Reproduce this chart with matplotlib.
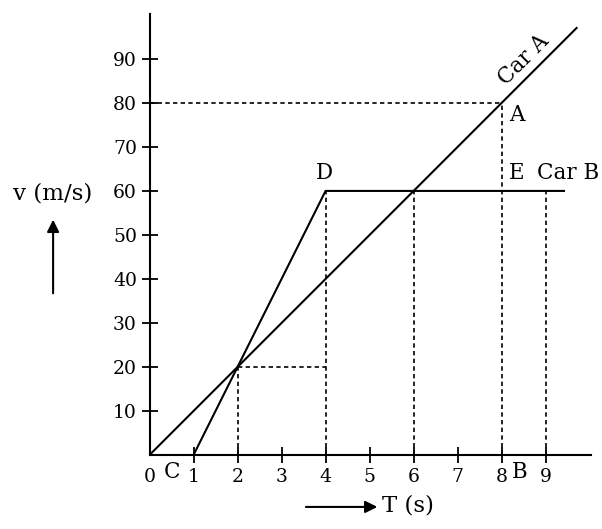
import matplotlib.pyplot as plt

# velocity-time data
time_a = [0, 9.72]
vel_a = [0, 97.2]
time_b = [1, 4, 9.44]
vel_b = [0, 60, 60]

# dotted guide segments: (x0, x1, y0, y1)
guides = [
    (0, 8, 80, 80),
    (8, 8, 0, 80),
    (2, 4, 20, 20),
    (2, 2, 0, 20),
    (4, 4, 0, 60),
    (6, 6, 0, 60),
    (9, 9, 0, 60),
]

xticks = list(range(0, 10))
yticks = list(range(10, 100, 10))

plt.rcParams['font.family'] = ['DejaVu Serif']

fig = plt.figure(figsize=(6.02, 5.29), dpi=100)
ax = fig.add_axes([149.5 / 602, 74 / 529, 441.5 / 602, 441 / 529])

ax.plot(time_a, vel_a, color='black', lw=1.5, solid_capstyle='butt')
ax.plot(time_b, vel_b, color='black', lw=1.5, solid_capstyle='butt')
for x0, x1, y0, y1 in guides:
    ax.plot([x0, x1], [y0, y1], color='black', lw=1.2, linestyle=(0, (2.6, 2.0)))

ax.set_xlim(0, 10.03)
ax.set_ylim(0, 100.2)
ax.spines['top'].set_visible(False)
ax.spines['right'].set_visible(False)
for s in ('left', 'bottom'):
    ax.spines[s].set_linewidth(1.5)

ax.set_xticks(xticks)
ax.set_yticks(yticks)
ax.tick_params(direction='inout', length=12, width=1.3, labelsize=13.5, pad=3)
ax.xaxis.get_major_ticks()[0].tick1line.set_visible(False)

ts = 15.5
ax.text(3.97, 61.5, 'D', fontsize=ts, ha='center', va='bottom')
ax.text(8.35, 77.3, 'A', fontsize=ts, ha='center', va='center')
ax.text(8.35, 64, 'E', fontsize=ts, ha='center', va='center')
ax.text(9.5, 64, 'Car B', fontsize=ts, ha='center', va='center')
ax.text(8.49, 89.8, 'Car A', fontsize=ts, ha='center', va='center', rotation=45)
ax.text(0.51, -3.9, 'C', fontsize=ts, ha='center', va='center', clip_on=False)
ax.text(8.42, -3.9, 'B', fontsize=ts, ha='center', va='center', clip_on=False)

# axis captions with arrows
ax.text(-2.19, 59.5, 'v (m/s)', fontsize=16.5, ha='center', va='center')
ax.annotate('', xy=(-2.19, 54.1), xytext=(-2.19, 36.1), annotation_clip=False,
            arrowprops=dict(arrowstyle='-|>', color='black', lw=1.5, mutation_scale=18))
ax.annotate('', xy=(5.24, -11.8), xytext=(3.49, -11.8), annotation_clip=False,
            arrowprops=dict(arrowstyle='-|>', color='black', lw=1.5, mutation_scale=18))
ax.text(5.28, -11.4, 'T (s)', fontsize=16.5, ha='left', va='center')

fig.savefig('out.png', dpi=100)
